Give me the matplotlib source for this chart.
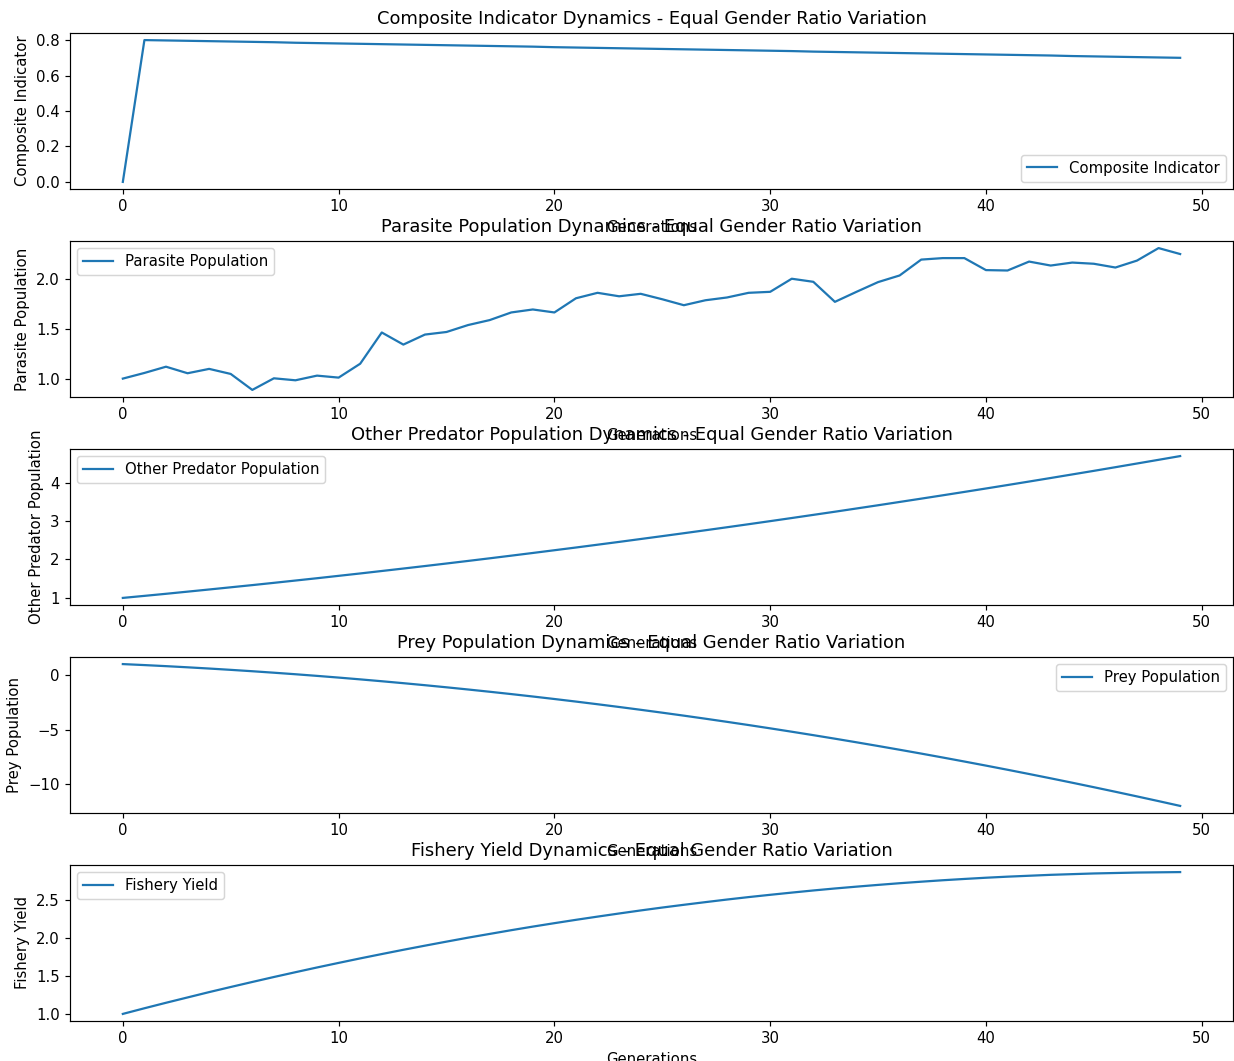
import matplotlib
matplotlib.use("Agg")
import matplotlib.pyplot as plt

generations = list(range(50))

composite = [0.000, 0.800, 0.798, 0.796, 0.794, 0.792, 0.790, 0.788, 0.785, 0.783,
             0.781, 0.779, 0.777, 0.775, 0.773, 0.771, 0.769, 0.767, 0.765, 0.763,
             0.760, 0.758, 0.756, 0.754, 0.752, 0.750, 0.748, 0.746, 0.744, 0.742,
             0.740, 0.738, 0.735, 0.733, 0.731, 0.729, 0.727, 0.725, 0.723, 0.721,
             0.719, 0.717, 0.715, 0.713, 0.710, 0.708, 0.706, 0.704, 0.702, 0.700]

parasite = [1.00, 1.057, 1.12, 1.054, 1.098, 1.047, 0.886, 1.003, 0.983, 1.03,
            1.01, 1.15, 1.465, 1.343, 1.444, 1.47, 1.54, 1.59, 1.667, 1.697,
            1.667, 1.81, 1.865, 1.83, 1.855, 1.80, 1.74, 1.79, 1.818, 1.865,
            1.875, 2.007, 1.976, 1.774, 1.875, 1.973, 2.04, 2.20, 2.215, 2.215,
            2.094, 2.09, 2.18, 2.14, 2.17, 2.158, 2.12, 2.19, 2.316, 2.256]

other_predator = [1.000, 1.053, 1.107, 1.163, 1.219, 1.276, 1.333, 1.392, 1.452, 1.512,
                  1.574, 1.636, 1.700, 1.764, 1.829, 1.895, 1.962, 2.030, 2.099, 2.169,
                  2.240, 2.311, 2.384, 2.457, 2.532, 2.607, 2.683, 2.760, 2.838, 2.917,
                  2.997, 3.078, 3.160, 3.242, 3.326, 3.410, 3.496, 3.582, 3.669, 3.757,
                  3.846, 3.936, 4.027, 4.119, 4.212, 4.305, 4.400, 4.496, 4.592, 4.689]

prey = [1.000, 0.909, 0.811, 0.705, 0.592, 0.472, 0.345, 0.210, 0.069, -0.081,
        -0.237, -0.401, -0.572, -0.750, -0.935, -1.128, -1.328, -1.535, -1.749, -1.971,
        -2.200, -2.436, -2.680, -2.931, -3.189, -3.454, -3.726, -4.006, -4.293, -4.587,
        -4.889, -5.198, -5.514, -5.837, -6.168, -6.506, -6.851, -7.203, -7.563, -7.930,
        -8.304, -8.685, -9.074, -9.470, -9.873, -10.284, -10.702, -11.127, -11.559, -11.998]

fishery = [1.000, 1.074, 1.146, 1.216, 1.286, 1.353, 1.419, 1.484, 1.547, 1.609,
           1.669, 1.728, 1.785, 1.841, 1.895, 1.948, 2.000, 2.049, 2.098, 2.145,
           2.190, 2.234, 2.276, 2.317, 2.357, 2.395, 2.431, 2.466, 2.500, 2.532,
           2.562, 2.591, 2.619, 2.645, 2.669, 2.692, 2.714, 2.734, 2.753, 2.770,
           2.786, 2.800, 2.812, 2.824, 2.833, 2.842, 2.848, 2.854, 2.857, 2.860]

names = ["Composite Indicator", "Parasite Population", "Other Predator Population",
         "Prey Population", "Fishery Yield"]
series = [composite, parasite, other_predator, prey, fishery]
legend_locs = ["lower right", "upper left", "upper left", "upper right", "upper left"]

DPI = 107
fig, axes = plt.subplots(5, 1, figsize=(1234 / DPI, 1061 / DPI), dpi=DPI)
fig.subplots_adjust(left=0.0567, right=0.9992, top=0.9689, bottom=0.0377, hspace=0.3333)

for ax, name, vals, loc in zip(axes, names, series, legend_locs):
    ax.plot(generations, vals, color="#1f77b4", label=name)
    ax.set_title(f"{name} Dynamics - Equal Gender Ratio Variation", fontsize=12)
    ax.set_xlabel("Generations")
    ax.set_ylabel(name)
    ax.legend(loc=loc)

fig.savefig("out.png", dpi=DPI)
